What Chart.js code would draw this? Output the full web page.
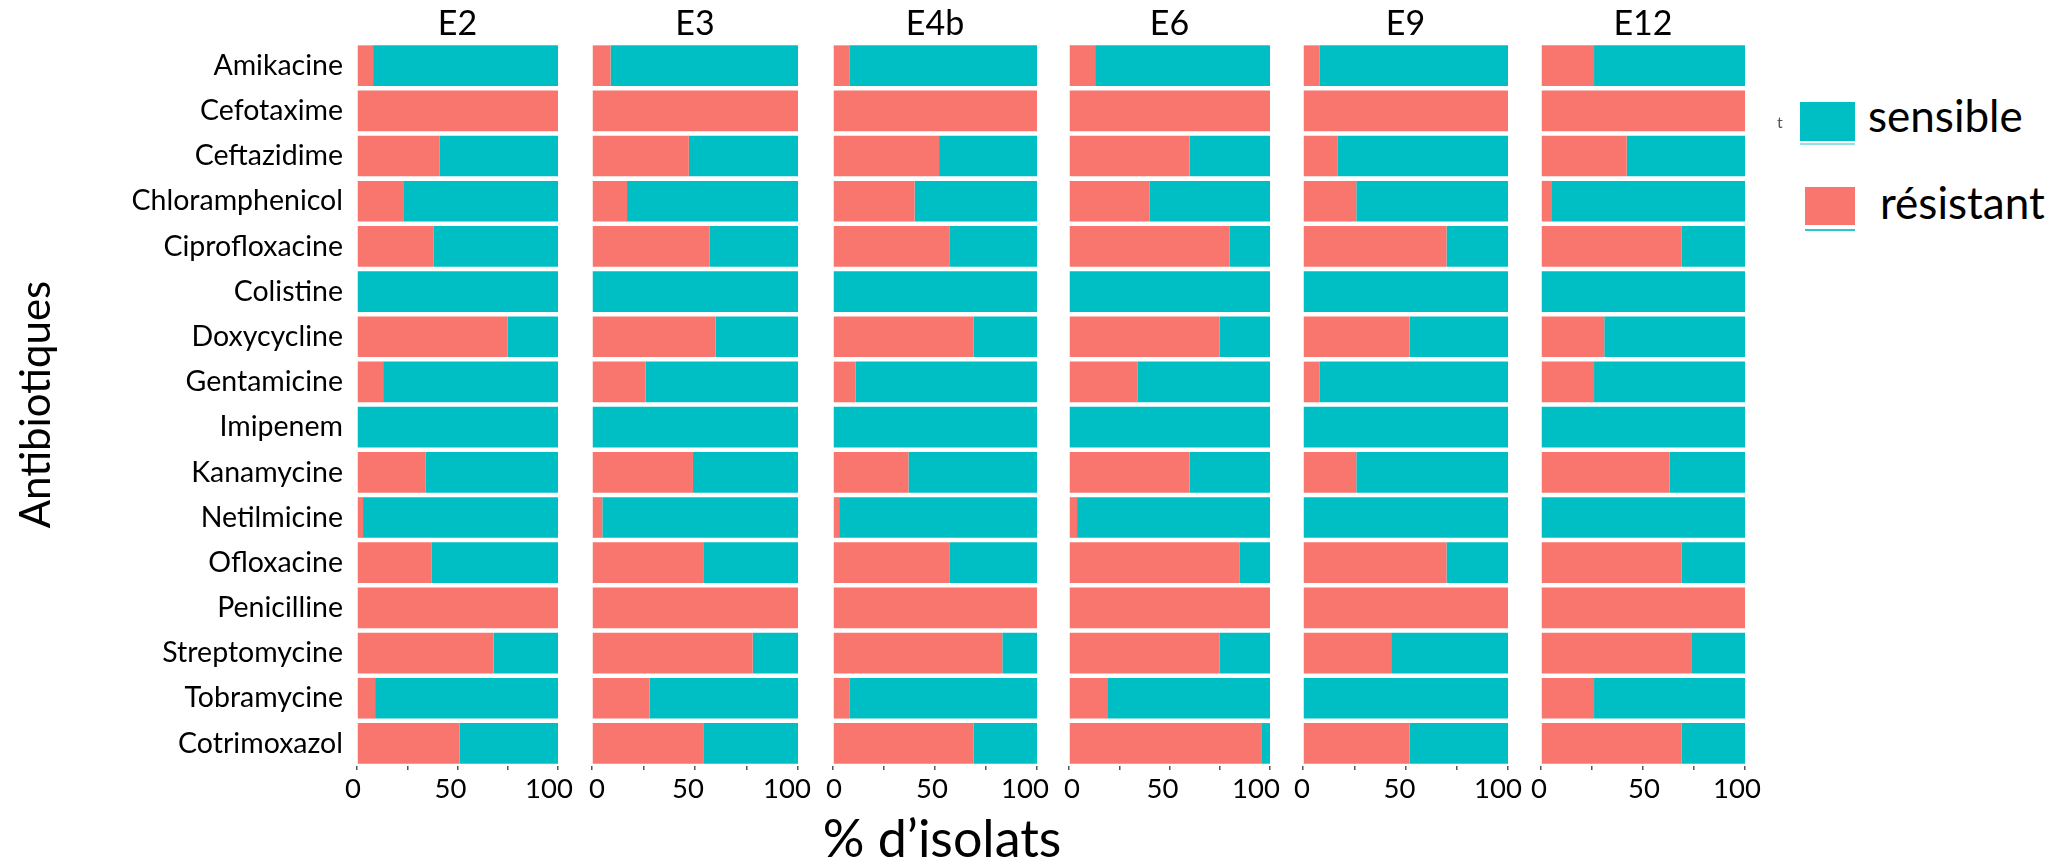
<!DOCTYPE html>
<html>
<head>
<meta charset="utf-8">
<script src="https://cdn.jsdelivr.net/npm/chart.js@4.4.1/dist/chart.umd.min.js"></script>
<style>
  html, body { margin: 0; padding: 0; background: #fff; }
  body { width: 2048px; height: 861px; overflow: hidden; position: relative; font-family: Lato, "Open Sans", sans-serif; }
  canvas.c { position: absolute; top: 0; }
  .txt { position: absolute; color: #000; white-space: nowrap; line-height: 1; }
  .sw { position: absolute; }
</style>
</head>
<body>
<canvas class="c" id="p0"></canvas>
<canvas class="c" id="p1"></canvas>
<canvas class="c" id="p2"></canvas>
<canvas class="c" id="p3"></canvas>
<canvas class="c" id="p4"></canvas>
<canvas class="c" id="p5"></canvas>

<div class="txt" id="xtitle" style="left:942px; top:811px; font-size:52px; transform:translateX(-50%);">% d’isolats</div>

<div class="sw" style="left:1800px; top:102px; width:55px; height:39px; background:rgb(0,191,196);"></div>
<div class="sw" style="left:1800px; top:143px; width:55px; height:2px; background:#8fe3e6;"></div>
<div class="txt" style="left:1868px; top:93px; font-size:44px;">sensible</div>
<div class="sw" style="left:1805px; top:187px; width:50px; height:38px; background:rgb(248,118,109);"></div>
<div class="sw" style="left:1805px; top:229px; width:50px; height:2px; background:#2cc6d0;"></div>
<div class="txt" style="left:1880px; top:180px; font-size:44px;">résistant</div>
<div class="txt" style="left:1777px; top:114px; font-size:16px; color:#555;">t</div>

<script>
// ---------------- DATA ----------------
const antibiotics = [
  'Amikacine', 'Cefotaxime', 'Ceftazidime', 'Chloramphenicol', 'Ciprofloxacine',
  'Colistine', 'Doxycycline', 'Gentamicine', 'Imipenem', 'Kanamycine',
  'Netilmicine', 'Ofloxacine', 'Penicilline', 'Streptomycine', 'Tobramycine', 'Cotrimoxazol'
];
const panelNames = ['E2', 'E3', 'E4b', 'E6', 'E9', 'E12'];
const seriesNames = ['résistant', 'sensible'];
const xTickValues = [0, 50, 100];

const resistantE2  = [8, 100, 41, 23, 38, 0, 75, 13, 0, 34, 3, 37, 100, 68, 9, 51];
const sensibleE2   = [92, 0, 59, 77, 62, 100, 25, 87, 100, 66, 97, 63, 0, 32, 91, 49];
const resistantE3  = [9, 100, 47, 17, 57, 0, 60, 26, 0, 49, 5, 54, 100, 78, 28, 54];
const sensibleE3   = [91, 0, 53, 83, 43, 100, 40, 74, 100, 51, 95, 46, 0, 22, 72, 46];
const resistantE4b = [8, 100, 52, 40, 57, 0, 69, 11, 0, 37, 3, 57, 100, 83, 8, 69];
const sensibleE4b  = [92, 0, 48, 60, 43, 100, 31, 89, 100, 63, 97, 43, 0, 17, 92, 31];
const resistantE6  = [13, 100, 60, 40, 80, 0, 75, 34, 0, 60, 4, 85, 100, 75, 19, 96];
const sensibleE6   = [87, 0, 40, 60, 20, 100, 25, 66, 100, 40, 96, 15, 0, 25, 81, 4];
const resistantE9  = [8, 100, 17, 26, 70, 0, 52, 8, 0, 26, 0, 70, 100, 43, 0, 52];
const sensibleE9   = [92, 0, 83, 74, 30, 100, 48, 92, 100, 74, 100, 30, 0, 57, 100, 48];
const resistantE12 = [26, 100, 42, 5, 69, 0, 31, 26, 0, 63, 0, 69, 100, 74, 26, 69];
const sensibleE12  = [74, 0, 58, 95, 31, 100, 69, 74, 100, 37, 100, 31, 0, 26, 74, 31];

const resistantAll = [resistantE2, resistantE3, resistantE4b, resistantE6, resistantE9, resistantE12];
const sensibleAll  = [sensibleE2, sensibleE3, sensibleE4b, sensibleE6, sensibleE9, sensibleE12];

// ---------------- LAYOUT ----------------
const RED = 'rgb(248,118,109)';
const TEAL = 'rgb(0,191,196)';
const H = 861;
const plotLeft  = [357, 592, 833, 1069, 1303, 1541];
const plotWidth = [201, 206, 204, 201, 205, 204];
// small horizontal nudges of the x tick labels (pixels), per panel, as in the reference
const labelNudge = [
  { '0': -4, '50': -7, '100': -9 },
  { '0': 5,  '50': -7, '100': -11 },
  { '0': 1,  '50': -3, '100': -12 },
  { '0': 3,  '50': -7, '100': -14 },
  { '0': -1, '50': -6, '100': -10 },
  { '0': -2, '50': 1,  '100': -8 }
];
const PADL = 20, PADR = 32;
const AREA_BOTTOM = 766;

Chart.defaults.font.family = 'Lato, "Open Sans", sans-serif';
Chart.defaults.color = '#000';

const nudgePlugin = {
  id: 'nudgeTicks',
  beforeDraw(chart, args, opts) {
    const sx = chart.scales.x;
    const items = sx.getLabelItems();
    if (items._nudged) return;
    items.forEach(it => {
      const d = opts.shift ? opts.shift[String(it.label)] : undefined;
      if (d !== undefined && it.options && it.options.translation) it.options.translation[0] += d;
    });
    items._nudged = true;
  }
};

function makePanel(k) {
  const first = k === 0;
  const cv = document.getElementById('p' + k);
  const left = first ? 0 : plotLeft[k] - PADL;
  const width = first ? plotLeft[k] + plotWidth[k] + PADR : plotWidth[k] + PADL + PADR;
  cv.width = width; cv.height = H;
  cv.style.left = left + 'px';
  cv.style.width = width + 'px';
  cv.style.height = H + 'px';

  new Chart(cv, {
    type: 'bar',
    data: {
      labels: antibiotics,
      datasets: [
        { label: seriesNames[0], data: resistantAll[k], backgroundColor: RED, borderWidth: 0,
          barPercentage: 0.9, categoryPercentage: 1.0 },
        { label: seriesNames[1], data: sensibleAll[k], backgroundColor: TEAL, borderWidth: 0,
          barPercentage: 0.9, categoryPercentage: 1.0 }
      ]
    },
    plugins: [nudgePlugin],
    options: {
      indexAxis: 'y',
      responsive: false,
      animation: false,
      devicePixelRatio: 1,
      layout: { padding: { left: first ? 0 : PADL, right: PADR, top: 0, bottom: 0 } },
      plugins: {
        legend: { display: false },
        tooltip: { enabled: false },
        nudgeTicks: { shift: labelNudge[k] },
        title: {
          display: true, text: panelNames[k], fullSize: false,
          font: { size: 34, weight: 'normal', lineHeight: 1.12 },
          color: '#000', padding: { top: 5, bottom: 0 }
        }
      },
      scales: {
        x: {
          stacked: true, min: 0, max: 100,
          border: { display: false },
          grid: { display: true, drawOnChartArea: false, drawTicks: true, tickLength: 4, color: '#555', lineWidth: 1.5 },
          ticks: {
            stepSize: 25, autoSkip: false, maxRotation: 0, padding: 3,
            font: { size: 27.5 }, color: '#000',
            callback: (v) => xTickValues.includes(v) ? String(v) : ''
          },
          afterFit: (s) => { s.height = H - AREA_BOTTOM; }
        },
        y: {
          stacked: true,
          display: first,
          border: { display: false },
          grid: { display: false },
          ticks: { font: { size: 28.5 }, color: '#000', padding: 6, autoSkip: false },
          title: {
            display: first, text: 'Antibiotiques', color: '#000',
            font: { size: 42 }, padding: { top: 11, bottom: 0 }
          },
          afterFit: (s) => { if (first) s.width = plotLeft[0]; }
        }
      }
    }
  });
}

for (let k = 0; k < panelNames.length; k++) makePanel(k);
</script>
</body>
</html>
